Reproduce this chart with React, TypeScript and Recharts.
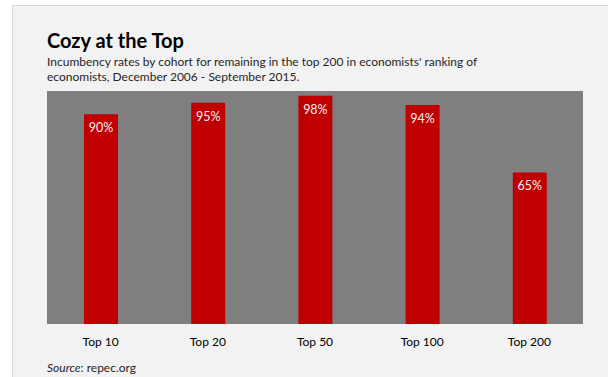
import { BarChart, Bar, XAxis, YAxis, CartesianGrid, LabelList } from 'recharts';

const cohorts = ['Top 10', 'Top 20', 'Top 50', 'Top 100', 'Top 200'];
const incumbency = [90, 95, 98, 94, 65];

const data = cohorts.map((name, i) => ({ name, rate: incumbency[i] }));

const font = 'Lato, "Open Sans", sans-serif';

export default function App() {
    return (
        <div style={{ position: 'absolute', left: 0, top: 0, width: 608, height: 377, background: '#ffffff', overflow: 'hidden', fontFamily: font }}>
            <div style={{ position: 'absolute', left: 12, top: 5, right: 0, bottom: 0, background: '#f2f2f2', borderLeft: '1px solid #d9d9d9', borderTop: '1px solid #d9d9d9' }} />

            <div style={{ position: 'absolute', left: 47, top: 28, fontSize: 20, fontWeight: 700, color: '#000', lineHeight: '24px' }}>
                Cozy at the Top
            </div>
            <div style={{ position: 'absolute', left: 47, top: 54, fontSize: 12, color: '#262626', lineHeight: '15px', width: 460 }}>
                Incumbency rates by cohort for remaining in the top 200 in economists' ranking of<br />
                economists, December 2006 - September 2015.
            </div>

            <div style={{ position: 'absolute', left: 0, top: 0 }}>
                <BarChart width={608} height={377} data={data} margin={{ top: 91, right: 25, bottom: 23, left: 47 }} barSize={34}>
                    <CartesianGrid fill="#7f7f7f" stroke="none" horizontal={false} vertical={false} />
                    <XAxis
                        dataKey="name"
                        axisLine={false}
                        tickLine={false}
                        tickMargin={7}
                        tick={{ fill: '#000', fontSize: 12, fontFamily: font }}
                    />
                    <YAxis hide domain={[0, 100]} />
                    <Bar dataKey="rate" fill="#c00000" isAnimationActive={false}>
                        <LabelList
                            dataKey="rate"
                            position="insideTop"
                            offset={9}
                            formatter={(v: number) => `${v}%`}
                            style={{ fill: '#f2f2f2', fontSize: 12.5, fontFamily: font }}
                        />
                    </Bar>
                </BarChart>
            </div>

            <div style={{ position: 'absolute', left: 47, top: 360, fontSize: 12, color: '#262626', lineHeight: '15px' }}>
                <i>Source</i>: repec.org
            </div>
        </div>
    );
}
